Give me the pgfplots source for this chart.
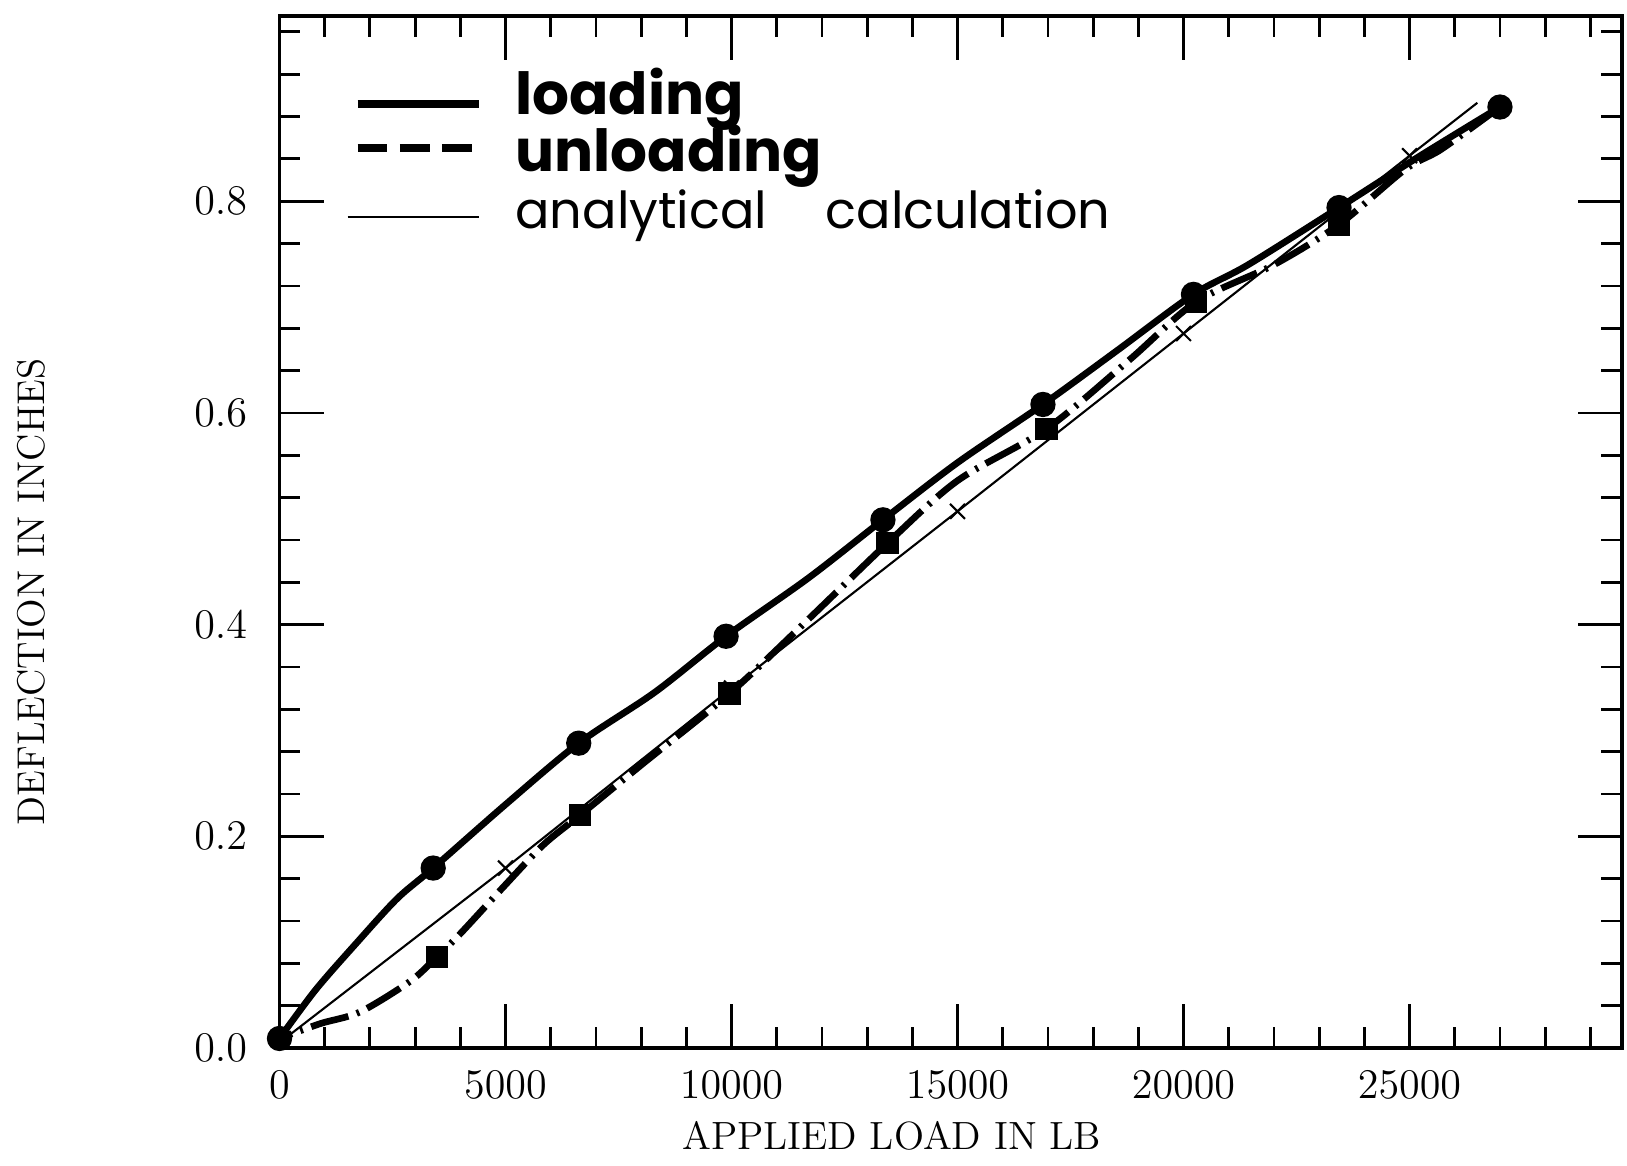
\documentclass[border=0pt]{standalone}
\usepackage{fontspec}
\usepackage{pgfplots}
\pgfplotsset{compat=1.18}
\newfontfamily\hand{Poppins}

\begin{document}
\begin{tikzpicture}
% page box: 1 px of the reference = 0.01cm
\path[use as bounding box] (-2.795,-1.17) rectangle (13.475,10.48);
\begin{axis}[
  at={(0,0)}, anchor=south west,
  scale only axis, width=13.425cm, height=10.32cm,
  xmin=0, xmax=29700, ymin=0, ymax=0.975,
  clip=false,
  xtick={0,5000,10000,15000,20000,25000},
  ytick={0,0.2,0.4,0.6,0.8},
  minor xtick={1000,2000,...,29000},
  minor ytick={0.04,0.08,...,0.97},
  tick align=inside,
  major tick length=0.44cm, minor tick length=0.21cm,
  every tick/.style={black, line width=0.8pt},
  axis line style={line width=1pt},
  scaled x ticks=false, scaled y ticks=false,
  x tick label style={/pgf/number format/fixed, /pgf/number format/set thousands separator={}, yshift=-0.11cm},
  y tick label style={/pgf/number format/fixed, /pgf/number format/fixed zerofill, /pgf/number format/precision=1, xshift=-0.2cm},
  ticklabel style={font=\fontsize{13}{15}\selectfont},
  xlabel={APPLIED LOAD IN LB},
  ylabel={DEFLECTION IN INCHES},
  every axis x label/.style={at={(axis description cs:0.456,-0.0853)}, anchor=center,
    font=\fontsize{11.2}{13}\selectfont},
  every axis y label/.style={at={(axis description cs:-0.185,0.442)}, anchor=center, rotate=90,
    font=\fontsize{11}{13}\selectfont},
  legend cell align=left,
  legend style={at={(axis description cs:0.0548,0.9457)}, anchor=north west,
    draw=none, fill=none, inner sep=0pt, row sep=0pt,
    nodes={inner sep=0pt, text height=0.42cm, text depth=0.15cm}},
  legend image code/.code={\draw[#1] (0cm,0cm) -- (1.21cm,0cm);},
]
\addlegendimage{line width=2.2pt, yshift=-0.03cm}
\addlegendentry{\hspace{0.33cm}{\hand\bfseries\fontsize{16.5}{18}\selectfont loading}}
\addlegendimage{line width=2.2pt, dash pattern=on 8.5pt off 3.5pt, yshift=0.1cm}
\addlegendentry{\hspace{0.33cm}{\hand\bfseries\fontsize{16.5}{18}\selectfont unloading}}
\addlegendimage{line width=0.5pt, yshift=-0.015cm, shorten <=-0.1cm}
\addlegendentry{\hspace{0.33cm}{\hand\fontsize{14.5}{17}\selectfont analytical\hspace{0.45cm} calculation}}

% loading
\addplot[line width=1.9pt, smooth, line join=round, forget plot] coordinates {
  (0,0.009) (800,0.055) (1700,0.099) (2600,0.141) (3400,0.170) (5000,0.230)
  (6620,0.288) (8300,0.336) (9880,0.389) (11700,0.444) (13350,0.499)
  (15000,0.553) (16890,0.608) (18500,0.658) (20220,0.712) (21430,0.740)
  (23440,0.794) (25200,0.842) (27000,0.889)};
\addplot[only marks, mark=*, mark size=3.4pt, forget plot] coordinates {
  (0,0.009) (3400,0.170) (6620,0.288) (9880,0.389) (13350,0.499)
  (16890,0.608) (20220,0.712) (23440,0.794) (27000,0.889)};

% unloading
\addplot[line width=1.9pt, smooth, dash pattern=on 11pt off 2.5pt on 0.8pt off 2.5pt, forget plot] coordinates {
  (27000,0.889) (25700,0.849) (24900,0.830) (23440,0.778) (22000,0.740)
  (20280,0.705) (18800,0.650) (16970,0.585) (15000,0.536) (13450,0.477)
  (11700,0.405) (9960,0.335) (8050,0.269) (6650,0.220) (5840,0.192)
  (4950,0.152) (4000,0.108) (3480,0.086) (2890,0.063) (1780,0.034)
  (900,0.023) (0,0.009)};
\addplot[only marks, mark=square*, mark size=3pt, forget plot] coordinates {
  (3480,0.086) (6650,0.220) (9960,0.335) (13450,0.477) (16970,0.585)
  (20280,0.705) (23440,0.778)};

% analytical calculation
\addplot[line width=0.6pt, forget plot] coordinates {
  (0,0.005) (5000,0.170) (10000,0.340) (15000,0.507) (20000,0.675)
  (25000,0.843) (26500,0.893)};
\addplot[only marks, mark=x, mark size=3pt, line width=0.6pt, forget plot] coordinates {
  (5000,0.170) (10000,0.340) (15000,0.507) (20000,0.675) (25000,0.843)};
\end{axis}
\end{tikzpicture}
\end{document}
